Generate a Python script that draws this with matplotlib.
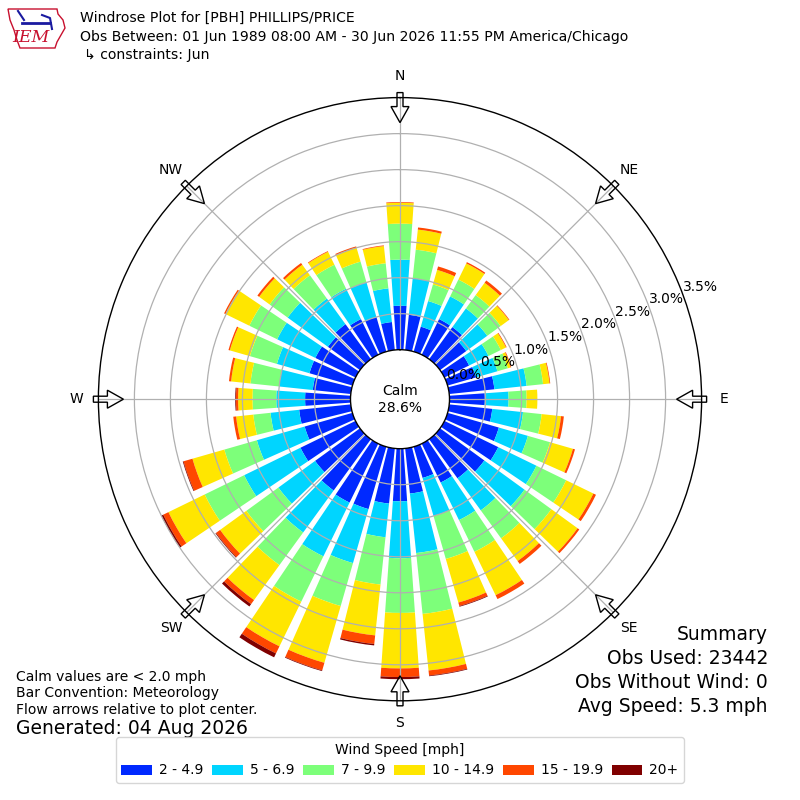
import numpy as np
import matplotlib
matplotlib.use("Agg")
import matplotlib.pyplot as plt
from matplotlib.patches import FancyArrow, Polygon

# ---------------- data ----------------
directions = np.arange(0, 360, 10)  # degrees, wind FROM
speed_labels = ["2 - 4.9", "5 - 6.9", "7 - 9.9", "10 - 14.9", "15 - 19.9", "20+"]
calm_pct = 28.6

# cumulative frequency (%) at the top of each speed bin, per direction
top_2_4_9 = [0.61, 0.49, 0.36, 0.55, 0.55, 0.45, 0.38, 0.41, 0.63, 0.49,
             0.60, 0.74, 0.83, 0.76, 0.67, 0.60, 0.45, 0.63, 0.73, 0.77,
             0.90, 0.91, 0.88, 0.77, 0.85, 0.69, 0.72, 0.63, 0.53, 0.62,
             0.62, 0.55, 0.60, 0.55, 0.50, 0.39]
top_5_6_9 = [1.25, 1.00, 0.73, 0.90, 0.87, 0.81, 0.68, 0.72, 1.08, 0.82,
             1.03, 1.16, 1.42, 1.45, 1.22, 1.18, 1.00, 1.46, 1.52, 1.24,
             1.68, 1.74, 1.60, 1.40, 1.72, 1.38, 1.12, 1.03, 1.00, 1.09,
             1.21, 1.24, 1.04, 1.02, 1.00, 0.86]
top_7_9_9 = [1.75, 1.40, 0.97, 1.16, 1.10, 1.04, 0.87, 0.87, 1.31, 1.07,
             1.29, 1.48, 1.88, 1.91, 1.70, 1.67, 1.62, 2.31, 2.28, 1.90,
             2.30, 2.44, 2.16, 1.95, 2.33, 1.85, 1.36, 1.36, 1.40, 1.48,
             1.64, 1.55, 1.44, 1.39, 1.30, 1.21]
top_10_14_9 = [2.04, 1.68, 1.18, 1.41, 1.31, 1.18, 0.95, 0.91, 1.40, 1.22,
               1.56, 1.81, 2.30, 2.36, 2.09, 2.34, 2.25, 3.10, 3.05, 2.61,
               3.12, 3.13, 2.76, 2.40, 2.89, 2.31, 1.60, 1.56, 1.67, 1.77,
               2.01, 1.73, 1.62, 1.59, 1.50, 1.45]
top_15_19_9 = [2.05, 1.71, 1.23, 1.43, 1.35, 1.19, 0.96, 0.92, 1.41, 1.22,
               1.60, 1.84, 2.34, 2.39, 2.14, 2.40, 2.30, 3.17, 3.17, 2.73,
               3.23, 3.24, 2.83, 2.47, 2.97, 2.44, 1.64, 1.59, 1.70, 1.79,
               2.03, 1.76, 1.65, 1.60, 1.52, 1.46]
top_20_plus = [2.05, 1.71, 1.23, 1.43, 1.35, 1.19, 0.96, 0.92, 1.41, 1.22,
               1.60, 1.84, 2.34, 2.39, 2.14, 2.40, 2.31, 3.18, 3.20, 2.75,
               3.24, 3.30, 2.87, 2.48, 3.00, 2.45, 1.64, 1.60, 1.70, 1.79,
               2.03, 1.76, 1.65, 1.60, 1.52, 1.46]

ring_values = [0.0, 0.5, 1.0, 1.5, 2.0, 2.5, 3.0, 3.5]
compass_labels = ["N", "NE", "E", "SE", "S", "SW", "W", "NW"]

title_lines = ["Windrose Plot for [PBH] PHILLIPS/PRICE",
               "Obs Between: 01 Jun 1989 08:00 AM - 30 Jun 2026 11:55 PM America/Chicago",
               "\u21b3 constraints: Jun"]
left_notes = ["Calm values are < 2.0 mph", "Bar Convention: Meteorology",
              "Flow arrows relative to plot center."]
generated = "Generated: 04 Aug 2026"
summary_lines = ["Summary", "Obs Used: 23442", "Obs Without Wind: 0", "Avg Speed: 5.3 mph"]

# ---------------- figure ----------------
plt.rcParams["font.family"] = ["DejaVu Sans"]
fig = plt.figure(figsize=(8, 8), dpi=100)
ax = fig.add_axes([0.123, 0.124, 0.754, 0.754], projection="polar")
ax.set_theta_zero_location("N")
ax.set_theta_direction(-1)

RMAX = 3.5
ax.set_rlim(0, RMAX)
ax.set_rorigin(-0.6875)

tops = [top_2_4_9, top_5_6_9, top_7_9_9, top_10_14_9, top_15_19_9, top_20_plus]
colors = plt.cm.jet(np.arange(1, 7) / 6.0)
theta = np.radians(directions)
bottom = np.zeros(len(directions))
handles = []
for i, t in enumerate(tops):
    t = np.asarray(t)
    h = ax.bar(theta, t - bottom, width=np.radians(8), bottom=bottom,
               color=colors[i], edgecolor="none", linewidth=0, label=speed_labels[i],
               zorder=1)
    handles.append(h)
    bottom = t

ax.set_thetagrids(np.arange(0, 360, 45), labels=[""] * 8)
ax.set_rgrids([0.5, 1.0, 1.5, 2.0, 2.5, 3.0], labels=[""] * 6)
ax.grid(True, color="#b0b0b0", linewidth=0.9)
ax.tick_params(axis="both", length=0, pad=0)
for name, sp in ax.spines.items():
    sp.set_color("black")
    sp.set_linewidth(1.0)

# radial labels
for v in ring_values:
    ax.text(np.radians(69.5), v, f"{v:.1f}%", ha="left", va="bottom",
            fontsize=10, zorder=5)

# compass labels
for k, lbl in enumerate(compass_labels):
    ax.text(np.radians(k * 45), 3.806, lbl, ha="center", va="center",
            fontsize=10, clip_on=False)

ax.text(0.5, 0.5, "Calm\n%.1f%%" % calm_pct, transform=ax.transAxes,
        ha="center", va="center", fontsize=10, linespacing=1.3)

# overlay for arrows and logo (pixel coordinates)
ovl = fig.add_axes([0, 0, 1, 1], zorder=10)
ovl.set_xlim(0, 800)
ovl.set_ylim(0, 800)
ovl.set_axis_off()

cx, cy = ax.transAxes.transform((0.5, 0.5))
ex, ey = ax.transData.transform((0.0, RMAX))
R = np.hypot(ex - cx, ey - cy)
for k in range(8):
    a = np.radians(k * 45)
    u = np.array([np.sin(a), np.cos(a)])
    tail = np.array([cx, cy]) + (R + 5) * u
    tip = np.array([cx, cy]) + (R - 25) * u
    d = tip - tail
    ovl.add_patch(FancyArrow(tail[0], tail[1], d[0], d[1], width=6,
                             head_width=18, head_length=16,
                             length_includes_head=True, facecolor="none",
                             edgecolor="black", linewidth=1.0))

# IEM logo (approximation)
iowa = np.array([(8, 9), (57, 9), (58, 14), (63, 20), (65, 28), (61, 35),
                 (57, 42), (55, 48), (20, 48), (17, 40), (14, 30), (10, 20)])
iowa[:, 1] = 800 - iowa[:, 1]
ovl.add_patch(Polygon(iowa, closed=True, facecolor="none", edgecolor="#c8102e",
                      linewidth=1.0))
ovl.plot([22, 50], [800 - 23, 800 - 23], color="#1a1aa0", lw=2)
ovl.plot([18, 24], [800 - 11, 800 - 20], color="#1a1aa0", lw=1.5)
ovl.plot([42, 50, 52], [800 - 15, 800 - 18, 800 - 29], color="#1a1aa0", lw=1.5)
ovl.text(31, 800 - 38, "IEM", color="#c8102e", fontsize=12.5, style="italic",
         family="DejaVu Serif", ha="center", va="center")

# titles
for i, (ln, y) in enumerate(zip(title_lines, [18, 37, 55])):
    fig.text((80 if i < 2 else 84) / 800, 1 - y / 800, ln, fontsize=10.1,
             ha="left", va="center")

for ln, y in zip(left_notes, [677, 693, 710]):
    fig.text(16 / 800, 1 - y / 800, ln, fontsize=10, ha="left", va="center")
fig.text(16 / 800, 1 - 729 / 800, generated, fontsize=13.5, ha="left", va="center")

for ln, y in zip(summary_lines, [635, 659, 683, 706]):
    fig.text(768 / 800, 1 - y / 800, ln, fontsize=13.5, ha="right", va="center")

leg = fig.legend(handles=handles, labels=speed_labels, loc="lower center",
                 bbox_to_anchor=(0.5, 10 / 800), ncol=6, fontsize=10,
                 title="Wind Speed [mph]", title_fontsize=10,
                 handlelength=2.2, handletextpad=0.5, columnspacing=0.65)

fig.savefig("out.png", dpi=100, facecolor="white")
